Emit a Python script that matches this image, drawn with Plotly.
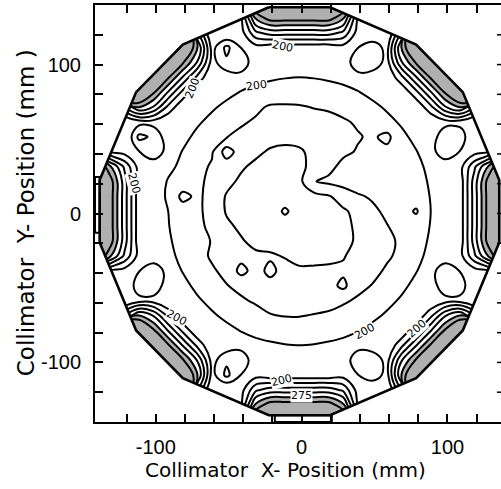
import plotly.graph_objects as go

# Grid of collimator positions (mm), 10 mm pitch, offset to the detector centre
x_centre, y_centre = -1.5, 1.5
x_pos = [v + x_centre for v in range(-140, 141, 10)]
y_pos = [v + y_centre for v in range(140, -141, -10)]

# Relative sensitivity (counts) on the grid, rows from top (y=+140) to bottom (y=-140)
r140 = [450,450,440,430,400,300,260,190,170,170,250,360,418,418,418,418,418,360,250,170,170,190,260,300,400,430,440,450,450]
r130 = [450,450,440,420,380,300,250,190,170,170,198,306,340,340,340,340,340,306,198,170,170,190,250,300,380,420,440,450,450]
r120 = [440,440,450,450,450,440,430,250,170,170,190,245,262,262,262,262,262,245,190,170,170,250,430,440,450,450,450,440,440]
r110 = [430,420,450,450,450,440,384,301,190,232,199,190,184,184,184,184,184,190,199,218,190,301,384,440,450,450,450,420,430]
r100 = [400,380,450,450,440,384,329,273,190,220,220,181,184,186,187,186,184,181,220,220,190,273,329,384,440,450,450,380,400]
r90  = [300,300,440,440,384,329,273,218,177,184,189,194,197,199,200,199,197,194,189,184,177,218,273,329,384,440,440,300,300]
r80  = [260,250,430,384,329,273,218,179,187,194,201,206,209,212,213,212,209,206,201,194,187,179,218,273,329,384,430,250,260]
r70  = [190,190,250,301,273,218,179,188,197,205,212,220,228,228,227,224,222,217,212,205,197,188,179,218,273,301,250,190,190]
r60  = [170,170,170,190,190,177,187,197,206,215,222,228,232,234,235,234,232,228,222,215,206,197,187,177,190,190,170,170,170]
r50  = [170,170,170,232,220,184,194,205,215,224,231,237,241,244,245,244,241,237,227,221,232,205,194,184,220,218,170,170,170]
r40  = [250,198,190,199,220,189,201,212,222,262,238,245,253,255,252,246,238,230,223,222,218,212,201,189,220,199,190,198,250]
r30  = [360,306,245,190,181,194,206,217,228,237,247,255,260,262,258,240,232,218,214,212,215,214,206,194,181,190,245,306,360]
r20  = [418,340,262,184,184,202,209,219,232,244,254,260,264,264,256,226,220,215,212,208,212,214,209,197,184,184,262,340,418]
r10  = [418,340,262,184,186,204,232,220,234,252,258,261,264,265,262,258,252,240,228,222,218,216,212,199,186,184,262,340,418]
r0   = [418,340,262,184,187,200,213,220,234,252,257,262,264,278,266,264,259,253,244,230,220,214,228,200,187,184,262,340,418]
rm10  = [418,340,262,184,186,199,212,218,232,246,254,261,264,265,266,265,264,256,246,234,226,216,212,199,186,184,262,340,418]
rm20  = [418,340,262,184,184,197,209,218,226,238,248,256,262,264,264,264,262,256,247,238,229,222,209,197,184,184,262,340,418]
rm30  = [360,306,245,190,181,194,206,217,228,237,242,246,246,252,258,257,255,252,240,234,228,220,206,194,181,190,245,306,360]
rm40  = [250,198,190,199,220,189,201,212,222,231,258,240,257,240,246,246,246,245,238,231,222,212,201,189,220,199,190,198,250]
rm50  = [170,170,170,218,220,184,194,205,215,224,231,237,241,244,245,244,241,256,231,224,215,205,194,184,220,218,170,170,170]
rm60  = [170,170,170,190,190,177,187,197,206,215,222,228,232,234,235,234,232,228,222,215,206,197,187,177,190,190,170,170,170]
rm70  = [190,190,250,301,273,218,179,188,197,205,212,217,224,226,226,224,222,217,212,205,197,188,179,218,273,301,250,190,190]
rm80  = [260,250,430,384,329,273,218,179,187,194,201,206,209,212,213,212,209,206,201,194,187,179,218,273,329,384,430,250,260]
rm90  = [300,300,440,440,384,329,273,218,177,184,189,194,197,199,200,199,197,194,189,184,177,218,273,329,384,440,440,300,300]
rm100 = [400,380,450,450,440,384,329,273,190,220,220,181,184,186,187,186,184,181,220,220,190,273,329,384,440,450,450,380,400]
rm110 = [430,420,450,450,450,440,384,301,190,232,199,190,184,184,184,184,184,190,199,218,190,301,384,440,450,450,450,420,430]
rm120 = [440,440,450,450,450,440,430,250,170,170,190,245,262,262,262,262,262,245,190,170,170,250,430,440,450,450,450,440,440]
rm130 = [450,450,440,420,380,300,250,190,170,170,198,306,340,340,340,340,340,306,198,170,170,190,250,300,380,420,440,450,450]
rm140 = [450,450,440,430,400,300,260,190,170,170,250,360,418,418,418,418,418,360,250,170,170,190,260,300,400,430,440,450,450]

counts = [r140, r130, r120, r110, r100, r90, r80, r70, r60, r50, r40, r30, r20, r10, r0,
          rm10, rm20, rm30, rm40, rm50, rm60, rm70, rm80, rm90, rm100, rm110, rm120, rm130, rm140]

# Sixteen-sided field of view (mm), clockwise from the top edge
edge_x = [-21, 21, 80, 112, 137, 137, 112, 80, 21, -21, -80, -112, -137, -137, -112, -80]
edge_y = [137, 137, 112, 80, 21, -21, -80, -112, -137, -137, -112, -80, -21, 21, 80, 112]
fov_x = [v + x_centre for v in edge_x]
fov_y = [v + y_centre for v in edge_y]

# Small closed strips along the left and bottom edges
strip_left_x = [-141.7, -138.5, -138.5, -141.7, -141.7]
strip_left_y = [24.5, 24.5, -13, -13, 24.5]
strip_bottom_x = [-18.4, 20.7, 20.7, -18.4, -18.4]
strip_bottom_y = [-135.5, -135.5, -140, -140, -135.5]

# Contour labels: (x, y, text, angle)
label_x = [-13, -31, -75, -86, -14, 43, 79, -115, 0]
label_y = [112, 86, 84, -70, -112, -79, -77, 20, -122]
label_text = ["200", "200", "200", "200", "200", "200", "200", "200", "275"]
label_angle = [12, -8, -68, 28, -14, -30, -42, 75, 0]

tick_vals = list(range(-120, 121, 20))
tick_text = ["-100" if v == -100 else "0" if v == 0 else "100" if v == 100 else "" for v in tick_vals]

fig = go.Figure()

fig.add_trace(go.Contour(
    x=x_pos, y=y_pos, z=counts,
    contours=dict(start=200, end=325, size=25, coloring="fill", showlabels=False),
    colorscale=[[0, "white"], [0.8, "white"], [0.8, "#b0b0b0"], [1, "#b0b0b0"]],
    zmin=200, zmax=350, showscale=False,
    line=dict(color="black", width=2, smoothing=1.0),
    hoverinfo="skip",
))

# White mask outside the field of view (outer box, then the polygon the other way round)
box_x = [-200, 200, 200, -200, -200]
box_y = [-200, -200, 200, 200, -200]
mask_x = box_x + fov_x + [fov_x[0]] + [box_x[0]]
mask_y = box_y + fov_y + [fov_y[0]] + [box_y[0]]
fig.add_trace(go.Scatter(x=mask_x, y=mask_y, mode="lines", fill="toself",
                         fillcolor="white", line=dict(width=0), hoverinfo="skip"))

fig.add_trace(go.Scatter(x=fov_x + [fov_x[0]], y=fov_y + [fov_y[0]], mode="lines",
                         line=dict(color="black", width=2.6), hoverinfo="skip"))
for sx, sy in [(strip_left_x, strip_left_y), (strip_bottom_x, strip_bottom_y)]:
    fig.add_trace(go.Scatter(x=sx, y=sy, mode="lines",
                             line=dict(color="black", width=2), hoverinfo="skip"))

for lx, ly, lt, la in zip(label_x, label_y, label_text, label_angle):
    fig.add_annotation(x=lx, y=ly, text=lt, textangle=la, showarrow=False,
                       font=dict(family="DejaVu Sans", size=11, color="black"),
                       bgcolor="white", borderpad=0)

# Axis titles
fig.add_annotation(xref="paper", yref="paper", x=0.47, y=-0.115, yanchor="middle",
                   text="Collimator  X- Position (mm)", showarrow=False,
                   font=dict(family="DejaVu Sans", size=20, color="black"))
fig.add_annotation(xref="paper", yref="paper", x=-0.17, y=0.503, xanchor="center",
                   text="Collimator  Y- Position (mm )", textangle=-90, showarrow=False,
                   font=dict(family="DejaVu Sans", size=23, color="black"))

# Tick marks on the right-hand side of the frame
for v in tick_vals:
    fig.add_shape(type="line", xref="paper", yref="y", x0=0.99, x1=1.0, y0=v, y1=v,
                  line=dict(color="black", width=1.5))

axis_font = dict(family="Liberation Sans", size=20, color="black")
fig.update_xaxes(range=[-141.7, 136.7], tickvals=tick_vals, ticktext=tick_text,
                 ticks="inside", ticklen=8, tickwidth=1.5, tickcolor="black",
                 showline=True, linewidth=2, linecolor="black", mirror="ticks",
                 showgrid=False, zeroline=False, tickfont=axis_font, ticklabelstandoff=6)
fig.update_yaxes(range=[-140, 140], tickvals=tick_vals, ticktext=tick_text,
                 ticks="inside", ticklen=8, tickwidth=1.5, tickcolor="black",
                 showline=True, linewidth=2, linecolor="black",
                 showgrid=False, zeroline=False, tickfont=axis_font, ticklabelstandoff=8)

fig.update_layout(width=501, height=489, margin=dict(l=95, r=0, t=5, b=67),
                  plot_bgcolor="white", paper_bgcolor="white", showlegend=False)

fig.write_html("out.html")
